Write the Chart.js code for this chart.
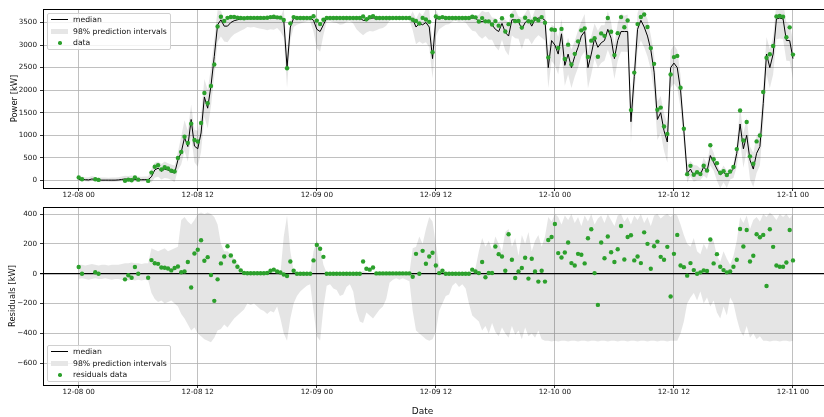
<!DOCTYPE html>
<html>
<head>
<meta charset="utf-8">
<title>Power forecast</title>
<script src="https://cdn.jsdelivr.net/npm/chart.js@4.4.0/dist/chart.umd.min.js"></script>
<style>
  html, body { margin: 0; padding: 0; background: #fff; overflow: hidden; }
  #wrap { position: relative; width: 824px; height: 417px; overflow: hidden; }
  .panel { position: absolute; left: 0; width: 845px; }
  #topPanel { top: 0; height: 200px; }
  #bottomPanel { top: 195px; height: 222px; }
  .legend {
    position: absolute; left: 47px; width: 124px; z-index: 5;
    background: rgba(255,255,255,0.8); border: 1px solid #d0d0d0; border-radius: 2px;
    box-sizing: border-box; font: 7.7px 'DejaVu Sans', sans-serif; color: #111;
  }
  .legend .row { position: relative; height: 11.6px; line-height: 11.6px; padding-left: 25px; white-space: nowrap; }
  .mk { position: absolute; left: 3px; width: 17px; }
  .mk.line { top: 5.3px; height: 1px; background: #000; }
  .mk.patch { top: 3px; height: 5.5px; background: #e6e6e6; }
  .mk.dot { left: 10px; top: 4.1px; width: 3.5px; height: 3.5px; border-radius: 50%; background: #2ca02c; }
</style>
</head>
<body>
<div id="wrap">
  <div class="panel" id="topPanel"><canvas id="powerChart"></canvas></div>
  <div class="panel" id="bottomPanel"><canvas id="residualChart"></canvas></div>
  <div class="legend" style="top:13px;">
    <div class="row"><span class="mk line"></span>median</div>
    <div class="row"><span class="mk patch"></span>98% prediction intervals</div>
    <div class="row"><span class="mk dot"></span>data</div>
  </div>
  <div class="legend" style="top:345px;">
    <div class="row"><span class="mk line"></span>median</div>
    <div class="row"><span class="mk patch"></span>98% prediction intervals</div>
    <div class="row"><span class="mk dot"></span>residuals data</div>
  </div>
</div>
<script>
// 20-minute samples from 12-08 00:00 to 12-11 00:00 (one row = 6 hours)
const median = [
  20, 25, 15, 10, 30, 15, 10, 5, 5, 5, 5, 5, 10, 20, 30, 25, 30, 20,
  15, 15, 15, 15, 80, 230, 270, 200, 250, 230, 190, 160, 450, 620, 950, 750, 1350, 760,
  700, 1050, 1850, 1600, 2100, 2750, 3450, 3560, 3420, 3420, 3500, 3540, 3560, 3580, 3590, 3600, 3600, 3600,
  3600, 3600, 3600, 3600, 3600, 3600, 3600, 3600, 3560, 2500, 3400, 3600, 3600, 3600, 3600, 3600, 3600, 3550,
  3350, 3300, 3450, 3600, 3600, 3600, 3600, 3600, 3600, 3600, 3600, 3600, 3600, 3600, 3550, 3540, 3590, 3600,
  3600, 3600, 3600, 3600, 3600, 3600, 3600, 3600, 3600, 3600, 3600, 3580, 3400, 3480, 3450, 3500, 3400, 2700,
  3580, 3600, 3600, 3600, 3600, 3600, 3600, 3600, 3600, 3600, 3600, 3600, 3600, 3520, 3520, 3550, 3520, 3450,
  3350, 3300, 3480, 3280, 3200, 3560, 3560, 3520, 3350, 3500, 3560, 3420, 3570, 3600, 3600, 3550, 2500, 3100,
  3000, 2800, 3250, 2550, 2800, 2500, 2750, 2950, 3200, 3300, 2500, 2800, 3150, 2950, 3050, 3100, 3350, 3150,
  2700, 3100, 3300, 3300, 3300, 1300, 2300, 3350, 3550, 3400, 3200, 2900, 2400, 1350, 1500, 1100, 850, 2500,
  2600, 2500, 2000, 1100, 150, 250, 100, 180, 130, 300, 200, 550, 400, 250, 120, 180, 110, 180,
  250, 600, 1250, 700, 1000, 450, 250, 600, 750, 1700, 2800, 2500, 2800, 3580, 3600, 3580, 3100, 3100,
  2700
];

// measured power minus median (null where no measurement)
const residual = [
  45, 0, null, null, null, 10, 0, null, null, null, null, null, null, null, -38, -10, -27, 45,
  0, null, null, -27, 91, 70, 66, 42, 40, 35, 22, 38, 48, 10, 15, 78, -93, 135,
  160, 224, 87, 111, -9, -182, -38, 69, 115, 184, 122, 82, 47, 22, 5, 3, 3, 3,
  3, 3, 3, 5, 20, 27, 15, 8, -5, -15, 82, 20, 0, 0, 0, 0, 0, 89,
  193, 167, 113, 0, 0, 0, 0, 0, 0, 0, 0, 0, 0, 0, 82, 33, 27, 42,
  2, 2, 2, 2, 2, 2, 2, 2, 2, 2, 2, -20, 133, 0, 153, 67, 115, 140,
  55, 4, 20, 0, 0, 0, 0, 0, 0, 0, 0, 27, 15, 4, 78, -24, 5, 5,
  182, 131, 115, 20, 264, 93, -29, 15, 38, 107, -33, 100, 15, -53, 20, -53, 226, 246,
  333, 138, 109, 142, 209, 71, 55, 133, 127, 69, 238, 298, 4, -209, 209, 104, 249, 144,
  78, 164, 320, 95, 246, 258, 89, 115, 71, 277, 200, 33, 184, 215, 113, 93, 180, -153,
  133, 260, 55, 44, -13, 71, 24, 0, 9, 22, 18, 229, 69, 131, 47, 24, 9, 15,
  47, 93, 300, 182, 293, 82, 120, 264, 244, 260, -82, 298, 180, 55, 47, 47, 75, 293,
  89
];

// 98% interval bounds relative to the median
const bandHi = [
  60, 60, 55, 60, 65, 60, 55, 60, 60, 55, 60, 60, 60, 65, 70, 70, 75, 70,
  70, 65, 70, 70, 170, 160, 150, 160, 170, 150, 160, 170, 180, 360, 380, 350, 330, 360,
  400, 410, 400, 410, 400, 380, 330, 200, 150, 150, 130, 100, 70, 40, 10, 5, 5, 5,
  5, 5, 10, 20, 15, 10, 5, 5, 250, 390, 150, 20, 5, 5, 5, 5, 5, 150,
  225, 180, 60, 5, 5, 5, 5, 5, 5, 5, 5, 5, 5, 10, 20, 10, 5, 5,
  5, 5, 5, 5, 5, 5, 5, 5, 5, 5, 5, 170, 180, 250, 200, 300, 380, 350,
  200, 50, 5, 5, 5, 5, 5, 5, 5, 5, 10, 20, 40, 150, 240, 180, 220, 160,
  250, 200, 150, 280, 300, 180, 240, 120, 260, 200, 280, 150, 220, 260, 180, 250, 380, 350,
  400, 380, 330, 390, 360, 400, 340, 380, 320, 390, 350, 400, 330, 370, 390, 340, 400, 360,
  320, 390, 400, 350, 380, 330, 390, 360, 400, 340, 380, 320, 390, 400, 370, 390, 400, 380,
  400, 390, 330, 260, 200, 180, 240, 150, 130, 200, 160, 240, 220, 120, 80, 150, 100, 60,
  120, 220, 380, 340, 390, 300, 360, 380, 350, 400, 380, 410, 390, 360, 400, 380, 400, 370,
  400
];

const bandLo = [
  -35, -30, -35, -40, -35, -30, -35, -35, -30, -35, -40, -35, -35, -40, -40, -45, -40, -45,
  -40, -45, -40, -45, -130, -170, -190, -180, -200, -190, -180, -200, -220, -270, -300, -340, -380, -360,
  -400, -420, -440, -450, -460, -430, -380, -370, -340, -360, -330, -300, -280, -260, -240, -200, -210, -200,
  -220, -240, -250, -270, -250, -260, -220, -300, -400, -450, -300, -200, -150, -120, -100, -80, -70, -250,
  -420, -450, -230, -80, -70, -100, -110, -150, -140, -90, -70, -120, -250, -320, -330, -260, -280, -300,
  -270, -240, -220, -170, -60, -40, -30, -40, -30, -40, -50, -250, -380, -400, -420, -440, -450, -440,
  -390, -250, -200, -150, -140, -80, -60, -90, -70, -100, -200, -280, -300, -320, -380, -350, -400, -330,
  -390, -420, -360, -400, -430, -350, -410, -380, -440, -360, -420, -400, -430, -380, -440, -450, -450, -455,
  -450, -455, -450, -450, -455, -450, -450, -455, -450, -450, -455, -450, -450, -455, -450, -450, -455, -450,
  -450, -455, -450, -450, -455, -450, -450, -455, -450, -450, -455, -450, -450, -455, -450, -450, -455, -450,
  -450, -450, -400, -320, -200, -160, -130, -180, -120, -200, -160, -220, -180, -260, -300, -220, -280, -160,
  -200, -300, -380, -420, -350, -430, -400, -440, -420, -450, -450, -455, -450, -450, -455, -450, -450, -455,
  -450
];

const tickHours = [0, 12, 24, 36, 48, 60, 72];
const tickLabels = ['12-08 00', '12-08 12', '12-09 00', '12-09 12', '12-10 00', '12-10 12', '12-11 00'];
const powerTicks = [0, 500, 1000, 1500, 2000, 2500, 3000, 3500];
const residualTicks = [-600, -400, -200, 0, 200, 400];

// hours since 12-08 00:00
const times = median.map((_, i) => i / 3);

const GREEN = '#2ca02c';
const GRID = '#b0b0b0';
const BAND = 'rgba(0,0,0,0.1)';
const TEXT = '#111';

Chart.defaults.font.family = "'DejaVu Sans', sans-serif";
Chart.defaults.color = TEXT;

const fmt = v => String(v).replace('-', '\u2212');
const xy = (arr) => arr.map((v, i) => ({ x: times[i], y: v }));

// black box round the plot area
const frame = {
  id: 'frame',
  afterDraw(chart) {
    const a = chart.chartArea;
    const c = chart.ctx;
    const l = Math.floor(a.left) + 0.5, t = Math.floor(a.top) + 0.5;
    const r = Math.floor(a.right) - 0.5, b = Math.floor(a.bottom) + 0.5;
    c.save();
    c.strokeStyle = '#000';
    c.lineWidth = 1;
    c.strokeRect(l, t, r - l, b - t);
    c.restore();
  }
};

function xAxis() {
  return {
    type: 'linear',
    min: -3.6,
    max: 76.84,
    afterBuildTicks: s => { s.ticks = tickHours.map(v => ({ value: v })); },
    afterFit: s => { s.height = 12; },
    ticks: {
      autoSkip: false, maxRotation: 0, padding: 0,
      font: { size: 7.2 }, color: TEXT,
      callback: v => tickLabels[tickHours.indexOf(v)]
    },
    grid: { color: GRID, lineWidth: 0.8, tickColor: '#000', tickLength: 3 },
    border: { display: false }
  };
}

function yAxis(min, max, ticks, title, titlePad, zeroLine) {
  return {
    min: min,
    max: max,
    afterBuildTicks: s => { s.ticks = ticks.map(v => ({ value: v })); },
    afterFit: s => { s.width = 43; },
    ticks: { padding: 3, font: { size: 7.2 }, color: TEXT, callback: v => fmt(v) },
    grid: {
      color: c => (zeroLine && c.tick && c.tick.value === 0) ? '#000' : GRID,
      lineWidth: c => (zeroLine && c.tick && c.tick.value === 0) ? 1.2 : 0.8,
      tickColor: '#000', tickLength: 3
    },
    title: { display: true, text: title, font: { size: 8.4 }, color: TEXT, padding: { top: titlePad, bottom: 0 } },
    border: { display: false }
  };
}

const bandStyle = { borderWidth: 0, pointRadius: 0, backgroundColor: BAND, tension: 0 };

// power panel
const powerData = residual.map((r, i) => ({ x: times[i], y: r === null ? null : median[i] + r }));
new Chart(document.getElementById('powerChart'), {
  type: 'line',
  data: {
    datasets: [
      { label: 'data', data: powerData, showLine: false, pointRadius: 2.2, pointBorderWidth: 0,
        pointBackgroundColor: GREEN, order: 0 },
      { label: 'median', data: xy(median), borderColor: '#000', borderWidth: 1, pointRadius: 0,
        tension: 0, order: 1 },
      { label: '98% prediction intervals', data: xy(median.map((m, i) => m + bandHi[i])),
        fill: '+1', order: 2, ...bandStyle },
      { label: 'lower', data: xy(median.map((m, i) => m + bandLo[i])), fill: false, order: 3, ...bandStyle }
    ]
  },
  options: {
    responsive: true,
    maintainAspectRatio: false,
    animation: false,
    layout: { padding: { left: 0, right: 0, top: 9, bottom: 0 } },
    plugins: { legend: { display: false }, tooltip: { enabled: false } },
    scales: {
      x: xAxis(),
      y: yAxis(-170, 3800, powerTicks, 'Power [kW]', 9.5, false)
    }
  },
  plugins: [frame]
});

// residual panel
new Chart(document.getElementById('residualChart'), {
  type: 'line',
  data: {
    datasets: [
      { label: 'residuals data', data: xy(residual), showLine: false, pointRadius: 2.2, pointBorderWidth: 0,
        pointBackgroundColor: GREEN, order: 0 },
      { label: '98% prediction intervals', data: xy(bandHi), fill: '+1', order: 2, ...bandStyle },
      { label: 'lower', data: xy(bandLo), fill: false, order: 3, ...bandStyle }
    ]
  },
  options: {
    responsive: true,
    maintainAspectRatio: false,
    animation: false,
    layout: { padding: { left: 0, right: 0, top: 12, bottom: 0 } },
    plugins: {
      legend: { display: false },
      tooltip: { enabled: false },
      title: { display: true, position: 'bottom', text: 'Date', color: TEXT,
               font: { size: 9, weight: 'normal' }, padding: { top: 9.2, bottom: 0 } }
    },
    scales: {
      x: xAxis(),
      y: yAxis(-746, 447, residualTicks, 'Residuals [kW]', 8, true)
    }
  },
  plugins: [frame]
});
</script>
</body>
</html>
